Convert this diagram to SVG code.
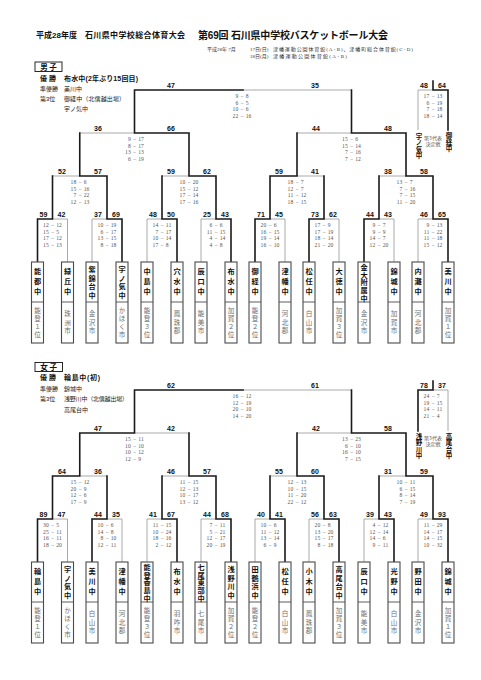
<svg xmlns="http://www.w3.org/2000/svg" width="481" height="680" viewBox="0 0 481 680">
<style>
.tk{fill:none;stroke:#1a1a1a;stroke-width:1.6;stroke-linecap:square}
.tn{fill:none;stroke:#a0a0a0;stroke-width:0.9}
.bx{fill:#fff;stroke:#4a4a4a;stroke-width:1.1}
.dv{fill:none;stroke:#4a4a4a;stroke-width:0.9}
.lb{font-family:"Liberation Sans",Arial,sans-serif;font-weight:bold;font-size:7px;fill:#111;text-anchor:middle}
.sc{font-family:"Liberation Serif",serif;font-size:5.6px;fill:#555;text-anchor:middle}
.e{text-anchor:end}.s{text-anchor:start}
.nm{font-family:"Noto Sans CJK JP",sans-serif;font-weight:bold;font-size:7.2px;fill:#111;writing-mode:vertical-rl;text-orientation:upright;text-anchor:middle}
.n3{letter-spacing:2.8px}.n4{letter-spacing:1.3px}.n5{letter-spacing:0.6px}
.rg{font-family:"Noto Sans CJK JP",sans-serif;font-size:6.6px;fill:#707070;writing-mode:vertical-rl;text-orientation:upright;text-anchor:middle}
.r3{letter-spacing:1.9px}.r4{letter-spacing:1.1px}
.t3{font-family:"Noto Sans CJK JP",sans-serif;font-weight:bold;font-size:6.5px;fill:#111;writing-mode:vertical-rl;text-orientation:upright;text-anchor:middle}
.tq{font-family:"Noto Sans CJK JP",sans-serif;font-size:5px;fill:#555;text-anchor:middle}
.h1{font-family:"Liberation Sans","Noto Sans CJK JP",sans-serif;font-weight:bold;font-size:8px;fill:#111}
.h2{font-family:"Liberation Sans","Noto Sans CJK JP",sans-serif;font-weight:bold;font-size:10px;fill:#111}
.sub{font-family:"Liberation Serif","Noto Sans CJK JP",serif;font-size:5px;fill:#333}
.w1{font-family:"Liberation Sans","Noto Sans CJK JP",sans-serif;font-weight:bold;font-size:7px;fill:#111}
.w2{font-family:"Liberation Sans","Noto Sans CJK JP",sans-serif;font-size:6px;fill:#222}
.sx{font-family:"Noto Sans CJK JP",sans-serif;font-weight:bold;font-size:7.5px;fill:#111;text-anchor:middle}
.sxb{fill:#fff;stroke:#111;stroke-width:0.9}
</style>

<g id="header">
<text class="h1" x="36" y="38">平成28年度</text>
<text class="h1" x="85" y="38" textLength="100">石川県中学校総合体育大会</text>
<text class="h2" x="198" y="38.5" textLength="190">第69回 石川県中学校バスケットボール大会</text>
<text class="sub" x="207" y="51">平成28年 7月</text>
<text class="sub" x="250" y="51">17日(日)</text>
<text class="sub" x="273" y="51" textLength="140">津幡運動公園体育館(A･B)、津幡町総合体育館(C･D)</text>
<text class="sub" x="250" y="58">18日(月)</text>
<text class="sub" x="273" y="58" textLength="74">津幡運動公園体育館(A･B)</text>
</g>

<g id="boys-results">
<rect class="sxb" x="35" y="62" width="27" height="9.5"/>
<text class="sx" x="48.5" y="69.8">男 子</text>
<text class="w1" x="40" y="81">優 勝</text>
<text class="w1" x="64" y="81" textLength="74">布水中(2年ぶり15回目)</text>
<text class="w2" x="40" y="91">準優勝</text>
<text class="w2" x="64" y="91">美川中</text>
<text class="w2" x="40" y="101">第3位</text>
<text class="w2" x="64" y="101" textLength="61">御経中（北信越出場）</text>
<text class="w2" x="64" y="111">宇ノ気中</text>
</g>

<g id="girls-results">
<rect class="sxb" x="35" y="362.5" width="27.5" height="9"/>
<text class="sx" x="48.7" y="370">女 子</text>
<text class="w1" x="40" y="380">優 勝</text>
<text class="w1" x="64" y="380" textLength="36">輪島中(初)</text>
<text class="w2" x="40" y="391">準優勝</text>
<text class="w2" x="64" y="391">錦城中</text>
<text class="w2" x="40" y="401">第3位</text>
<text class="w2" x="64" y="401" textLength="64">浅野川中（北信越出場）</text>
<text class="w2" x="64" y="412">高尾台中</text>
</g>

<g id="connectors">
<path class="tn" d="M67.5 262V219H52.5M92 262V219H107M147 262V219H162M201 262V219H216M285 262V219H270M339 262V219H324M394 262V219H379M418 262V219H433M52.5 176H79.75M162 176H189M324 176H297M379 176H406M79.75 133H134.5M297 133H351.5M351.5 90H243M418 130V90H433"/>
<path class="tk" d="M37.5 262V219H52.5M122 262V219H107M177 262V219H162M231 262V219H216M255 262V219H270M309 262V219H324M364 262V219H379M448 262V219H433M52.5 219V176M107 219V176H79.75M162 219V176M216 219V176H189M324 219V176M270 219V176H297M379 219V176M433 219V176H406M79.75 176V133M189 176V133H134.5M297 176V133M406 176V133H351.5M351.5 133V90M134.5 133V90H243M448 130V90H433M433 90V81"/>
<path class="tn" d="M67.5 562V519H52.5M122 562V519H107M147 562V519H162M201 562V519H216M255 562V519H270M309 562V519H324M364 562V519H379M418 562V519H433M107 476H79.75M162 476H189M270 476H297M379 476H406M189 433H134.5M297 433H351.5M351.5 390H243M448 431V390H433"/>
<path class="tk" d="M37.5 562V519H52.5M92 562V519H107M177 562V519H162M231 562V519H216M285 562V519H270M339 562V519H324M394 562V519H379M448 562V519H433M107 519V476M52.5 519V476H79.75M162 519V476M216 519V476H189M270 519V476M324 519V476H297M379 519V476M433 519V476H406M189 476V433M79.75 476V433H134.5M297 476V433M406 476V433H351.5M351.5 433V390M134.5 433V390H243M418 431V390H433M433 390V381"/>
</g>

<g id="labels">
<text class="lb" x="43.5" y="217">59</text><text class="lb" x="61.5" y="217">42</text><text class="lb" x="98" y="217">37</text><text class="lb" x="116" y="217">69</text><text class="lb" x="153" y="217">48</text><text class="lb" x="171" y="217">50</text><text class="lb" x="207" y="217">25</text><text class="lb" x="225" y="217">43</text><text class="lb" x="261" y="217">71</text><text class="lb" x="279" y="217">45</text><text class="lb" x="315" y="217">73</text><text class="lb" x="333" y="217">62</text><text class="lb" x="370" y="217">44</text><text class="lb" x="388" y="217">43</text><text class="lb" x="424" y="217">46</text><text class="lb" x="442" y="217">65</text>
<text class="lb" x="62" y="174">52</text><text class="lb" x="98" y="174">57</text><text class="lb" x="171" y="174">59</text><text class="lb" x="207" y="174">62</text><text class="lb" x="279" y="174">59</text><text class="lb" x="315" y="174">41</text><text class="lb" x="388" y="174">38</text><text class="lb" x="424" y="174">58</text>
<text class="lb" x="98" y="131">36</text><text class="lb" x="171" y="131">66</text><text class="lb" x="316" y="131">44</text><text class="lb" x="388" y="131">48</text>
<text class="lb" x="171" y="88">47</text><text class="lb" x="315" y="88">35</text><text class="lb" x="424" y="88">48</text><text class="lb" x="442" y="88">64</text>
<text class="lb" x="43.5" y="517">89</text><text class="lb" x="61.5" y="517">47</text><text class="lb" x="98" y="517">44</text><text class="lb" x="116" y="517">35</text><text class="lb" x="153" y="517">41</text><text class="lb" x="171" y="517">67</text><text class="lb" x="207" y="517">44</text><text class="lb" x="225" y="517">68</text><text class="lb" x="261" y="517">40</text><text class="lb" x="279" y="517">41</text><text class="lb" x="315" y="517">56</text><text class="lb" x="333" y="517">63</text><text class="lb" x="370" y="517">39</text><text class="lb" x="388" y="517">43</text><text class="lb" x="424" y="517">49</text><text class="lb" x="442" y="517">93</text>
<text class="lb" x="62" y="474">64</text><text class="lb" x="98" y="474">36</text><text class="lb" x="171" y="474">46</text><text class="lb" x="207" y="474">57</text><text class="lb" x="279" y="474">55</text><text class="lb" x="315" y="474">60</text><text class="lb" x="388" y="474">31</text><text class="lb" x="424" y="474">59</text>
<text class="lb" x="98" y="431">47</text><text class="lb" x="171" y="431">42</text><text class="lb" x="316" y="431">42</text><text class="lb" x="388" y="431">58</text>
<text class="lb" x="171" y="388">62</text><text class="lb" x="315" y="388">61</text><text class="lb" x="424" y="388">78</text><text class="lb" x="442" y="388">37</text>
</g>

<g id="scores">
<g transform="translate(52.5,219)"><text class="sc" y="8"><tspan class="e" x="-3.8">12</tspan><tspan x="0">−</tspan><tspan class="s" x="3.8">12</tspan></text><text class="sc" y="14.5"><tspan class="e" x="-3.8">15</tspan><tspan x="0">−</tspan><tspan class="s" x="3.8">5</tspan></text><text class="sc" y="21"><tspan class="e" x="-3.8">17</tspan><tspan x="0">−</tspan><tspan class="s" x="3.8">12</tspan></text><text class="sc" y="27.5"><tspan class="e" x="-3.8">15</tspan><tspan x="0">−</tspan><tspan class="s" x="3.8">13</tspan></text></g>
<g transform="translate(107,219)"><text class="sc" y="8"><tspan class="e" x="-3.8">10</tspan><tspan x="0">−</tspan><tspan class="s" x="3.8">19</tspan></text><text class="sc" y="14.5"><tspan class="e" x="-3.8">6</tspan><tspan x="0">−</tspan><tspan class="s" x="3.8">17</tspan></text><text class="sc" y="21"><tspan class="e" x="-3.8">13</tspan><tspan x="0">−</tspan><tspan class="s" x="3.8">15</tspan></text><text class="sc" y="27.5"><tspan class="e" x="-3.8">8</tspan><tspan x="0">−</tspan><tspan class="s" x="3.8">18</tspan></text></g>
<g transform="translate(162,219)"><text class="sc" y="8"><tspan class="e" x="-3.8">14</tspan><tspan x="0">−</tspan><tspan class="s" x="3.8">11</tspan></text><text class="sc" y="14.5"><tspan class="e" x="-3.8">7</tspan><tspan x="0">−</tspan><tspan class="s" x="3.8">17</tspan></text><text class="sc" y="21"><tspan class="e" x="-3.8">10</tspan><tspan x="0">−</tspan><tspan class="s" x="3.8">14</tspan></text><text class="sc" y="27.5"><tspan class="e" x="-3.8">17</tspan><tspan x="0">−</tspan><tspan class="s" x="3.8">8</tspan></text></g>
<g transform="translate(216,219)"><text class="sc" y="8"><tspan class="e" x="-3.8">6</tspan><tspan x="0">−</tspan><tspan class="s" x="3.8">6</tspan></text><text class="sc" y="14.5"><tspan class="e" x="-3.8">11</tspan><tspan x="0">−</tspan><tspan class="s" x="3.8">15</tspan></text><text class="sc" y="21"><tspan class="e" x="-3.8">4</tspan><tspan x="0">−</tspan><tspan class="s" x="3.8">14</tspan></text><text class="sc" y="27.5"><tspan class="e" x="-3.8">4</tspan><tspan x="0">−</tspan><tspan class="s" x="3.8">8</tspan></text></g>
<g transform="translate(270,219)"><text class="sc" y="8"><tspan class="e" x="-3.8">20</tspan><tspan x="0">−</tspan><tspan class="s" x="3.8">6</tspan></text><text class="sc" y="14.5"><tspan class="e" x="-3.8">16</tspan><tspan x="0">−</tspan><tspan class="s" x="3.8">15</tspan></text><text class="sc" y="21"><tspan class="e" x="-3.8">19</tspan><tspan x="0">−</tspan><tspan class="s" x="3.8">14</tspan></text><text class="sc" y="27.5"><tspan class="e" x="-3.8">16</tspan><tspan x="0">−</tspan><tspan class="s" x="3.8">10</tspan></text></g>
<g transform="translate(324,219)"><text class="sc" y="8"><tspan class="e" x="-3.8">17</tspan><tspan x="0">−</tspan><tspan class="s" x="3.8">9</tspan></text><text class="sc" y="14.5"><tspan class="e" x="-3.8">17</tspan><tspan x="0">−</tspan><tspan class="s" x="3.8">19</tspan></text><text class="sc" y="21"><tspan class="e" x="-3.8">18</tspan><tspan x="0">−</tspan><tspan class="s" x="3.8">14</tspan></text><text class="sc" y="27.5"><tspan class="e" x="-3.8">21</tspan><tspan x="0">−</tspan><tspan class="s" x="3.8">20</tspan></text></g>
<g transform="translate(379,219)"><text class="sc" y="8"><tspan class="e" x="-3.8">9</tspan><tspan x="0">−</tspan><tspan class="s" x="3.8">7</tspan></text><text class="sc" y="14.5"><tspan class="e" x="-3.8">9</tspan><tspan x="0">−</tspan><tspan class="s" x="3.8">9</tspan></text><text class="sc" y="21"><tspan class="e" x="-3.8">14</tspan><tspan x="0">−</tspan><tspan class="s" x="3.8">7</tspan></text><text class="sc" y="27.5"><tspan class="e" x="-3.8">12</tspan><tspan x="0">−</tspan><tspan class="s" x="3.8">20</tspan></text></g>
<g transform="translate(433,219)"><text class="sc" y="8"><tspan class="e" x="-3.8">9</tspan><tspan x="0">−</tspan><tspan class="s" x="3.8">13</tspan></text><text class="sc" y="14.5"><tspan class="e" x="-3.8">11</tspan><tspan x="0">−</tspan><tspan class="s" x="3.8">22</tspan></text><text class="sc" y="21"><tspan class="e" x="-3.8">11</tspan><tspan x="0">−</tspan><tspan class="s" x="3.8">18</tspan></text><text class="sc" y="27.5"><tspan class="e" x="-3.8">15</tspan><tspan x="0">−</tspan><tspan class="s" x="3.8">12</tspan></text></g>
<g transform="translate(80,176)"><text class="sc" y="8"><tspan class="e" x="-3.8">18</tspan><tspan x="0">−</tspan><tspan class="s" x="3.8">6</tspan></text><text class="sc" y="14.5"><tspan class="e" x="-3.8">15</tspan><tspan x="0">−</tspan><tspan class="s" x="3.8">16</tspan></text><text class="sc" y="21"><tspan class="e" x="-3.8">7</tspan><tspan x="0">−</tspan><tspan class="s" x="3.8">22</tspan></text><text class="sc" y="27.5"><tspan class="e" x="-3.8">12</tspan><tspan x="0">−</tspan><tspan class="s" x="3.8">13</tspan></text></g>
<g transform="translate(189,176)"><text class="sc" y="8"><tspan class="e" x="-3.8">10</tspan><tspan x="0">−</tspan><tspan class="s" x="3.8">20</tspan></text><text class="sc" y="14.5"><tspan class="e" x="-3.8">15</tspan><tspan x="0">−</tspan><tspan class="s" x="3.8">12</tspan></text><text class="sc" y="21"><tspan class="e" x="-3.8">17</tspan><tspan x="0">−</tspan><tspan class="s" x="3.8">14</tspan></text><text class="sc" y="27.5"><tspan class="e" x="-3.8">17</tspan><tspan x="0">−</tspan><tspan class="s" x="3.8">16</tspan></text></g>
<g transform="translate(297,176)"><text class="sc" y="8"><tspan class="e" x="-3.8">18</tspan><tspan x="0">−</tspan><tspan class="s" x="3.8">7</tspan></text><text class="sc" y="14.5"><tspan class="e" x="-3.8">12</tspan><tspan x="0">−</tspan><tspan class="s" x="3.8">7</tspan></text><text class="sc" y="21"><tspan class="e" x="-3.8">11</tspan><tspan x="0">−</tspan><tspan class="s" x="3.8">12</tspan></text><text class="sc" y="27.5"><tspan class="e" x="-3.8">18</tspan><tspan x="0">−</tspan><tspan class="s" x="3.8">15</tspan></text></g>
<g transform="translate(406,176)"><text class="sc" y="8"><tspan class="e" x="-3.8">13</tspan><tspan x="0">−</tspan><tspan class="s" x="3.8">7</tspan></text><text class="sc" y="14.5"><tspan class="e" x="-3.8">7</tspan><tspan x="0">−</tspan><tspan class="s" x="3.8">16</tspan></text><text class="sc" y="21"><tspan class="e" x="-3.8">7</tspan><tspan x="0">−</tspan><tspan class="s" x="3.8">15</tspan></text><text class="sc" y="27.5"><tspan class="e" x="-3.8">11</tspan><tspan x="0">−</tspan><tspan class="s" x="3.8">20</tspan></text></g>
<g transform="translate(134.5,133)"><text class="sc" y="8"><tspan class="e" x="-3.8">9</tspan><tspan x="0">−</tspan><tspan class="s" x="3.8">17</tspan></text><text class="sc" y="14.5"><tspan class="e" x="-3.8">8</tspan><tspan x="0">−</tspan><tspan class="s" x="3.8">17</tspan></text><text class="sc" y="21"><tspan class="e" x="-3.8">13</tspan><tspan x="0">−</tspan><tspan class="s" x="3.8">13</tspan></text><text class="sc" y="27.5"><tspan class="e" x="-3.8">6</tspan><tspan x="0">−</tspan><tspan class="s" x="3.8">19</tspan></text></g>
<g transform="translate(351.5,133)"><text class="sc" y="8"><tspan class="e" x="-3.8">15</tspan><tspan x="0">−</tspan><tspan class="s" x="3.8">6</tspan></text><text class="sc" y="14.5"><tspan class="e" x="-3.8">15</tspan><tspan x="0">−</tspan><tspan class="s" x="3.8">14</tspan></text><text class="sc" y="21"><tspan class="e" x="-3.8">7</tspan><tspan x="0">−</tspan><tspan class="s" x="3.8">16</tspan></text><text class="sc" y="27.5"><tspan class="e" x="-3.8">7</tspan><tspan x="0">−</tspan><tspan class="s" x="3.8">12</tspan></text></g>
<g transform="translate(242,90)"><text class="sc" y="8"><tspan class="e" x="-3.8">9</tspan><tspan x="0">−</tspan><tspan class="s" x="3.8">8</tspan></text><text class="sc" y="14.5"><tspan class="e" x="-3.8">6</tspan><tspan x="0">−</tspan><tspan class="s" x="3.8">5</tspan></text><text class="sc" y="21"><tspan class="e" x="-3.8">10</tspan><tspan x="0">−</tspan><tspan class="s" x="3.8">6</tspan></text><text class="sc" y="27.5"><tspan class="e" x="-3.8">22</tspan><tspan x="0">−</tspan><tspan class="s" x="3.8">16</tspan></text></g>
<g transform="translate(433,90)"><text class="sc" y="8"><tspan class="e" x="-3.8">17</tspan><tspan x="0">−</tspan><tspan class="s" x="3.8">13</tspan></text><text class="sc" y="14.5"><tspan class="e" x="-3.8">6</tspan><tspan x="0">−</tspan><tspan class="s" x="3.8">19</tspan></text><text class="sc" y="21"><tspan class="e" x="-3.8">7</tspan><tspan x="0">−</tspan><tspan class="s" x="3.8">18</tspan></text><text class="sc" y="27.5"><tspan class="e" x="-3.8">18</tspan><tspan x="0">−</tspan><tspan class="s" x="3.8">14</tspan></text></g>

<g transform="translate(52.5,519)"><text class="sc" y="8"><tspan class="e" x="-3.8">30</tspan><tspan x="0">−</tspan><tspan class="s" x="3.8">5</tspan></text><text class="sc" y="14.5"><tspan class="e" x="-3.8">25</tspan><tspan x="0">−</tspan><tspan class="s" x="3.8">11</tspan></text><text class="sc" y="21"><tspan class="e" x="-3.8">16</tspan><tspan x="0">−</tspan><tspan class="s" x="3.8">11</tspan></text><text class="sc" y="27.5"><tspan class="e" x="-3.8">18</tspan><tspan x="0">−</tspan><tspan class="s" x="3.8">20</tspan></text></g>
<g transform="translate(107,519)"><text class="sc" y="8"><tspan class="e" x="-3.8">10</tspan><tspan x="0">−</tspan><tspan class="s" x="3.8">6</tspan></text><text class="sc" y="14.5"><tspan class="e" x="-3.8">14</tspan><tspan x="0">−</tspan><tspan class="s" x="3.8">8</tspan></text><text class="sc" y="21"><tspan class="e" x="-3.8">8</tspan><tspan x="0">−</tspan><tspan class="s" x="3.8">10</tspan></text><text class="sc" y="27.5"><tspan class="e" x="-3.8">12</tspan><tspan x="0">−</tspan><tspan class="s" x="3.8">11</tspan></text></g>
<g transform="translate(162,519)"><text class="sc" y="8"><tspan class="e" x="-3.8">11</tspan><tspan x="0">−</tspan><tspan class="s" x="3.8">15</tspan></text><text class="sc" y="14.5"><tspan class="e" x="-3.8">10</tspan><tspan x="0">−</tspan><tspan class="s" x="3.8">24</tspan></text><text class="sc" y="21"><tspan class="e" x="-3.8">18</tspan><tspan x="0">−</tspan><tspan class="s" x="3.8">16</tspan></text><text class="sc" y="27.5"><tspan class="e" x="-3.8">2</tspan><tspan x="0">−</tspan><tspan class="s" x="3.8">12</tspan></text></g>
<g transform="translate(216,519)"><text class="sc" y="8"><tspan class="e" x="-3.8">7</tspan><tspan x="0">−</tspan><tspan class="s" x="3.8">11</tspan></text><text class="sc" y="14.5"><tspan class="e" x="-3.8">5</tspan><tspan x="0">−</tspan><tspan class="s" x="3.8">21</tspan></text><text class="sc" y="21"><tspan class="e" x="-3.8">12</tspan><tspan x="0">−</tspan><tspan class="s" x="3.8">17</tspan></text><text class="sc" y="27.5"><tspan class="e" x="-3.8">20</tspan><tspan x="0">−</tspan><tspan class="s" x="3.8">19</tspan></text></g>
<g transform="translate(270,519)"><text class="sc" y="8"><tspan class="e" x="-3.8">10</tspan><tspan x="0">−</tspan><tspan class="s" x="3.8">6</tspan></text><text class="sc" y="14.5"><tspan class="e" x="-3.8">11</tspan><tspan x="0">−</tspan><tspan class="s" x="3.8">12</tspan></text><text class="sc" y="21"><tspan class="e" x="-3.8">13</tspan><tspan x="0">−</tspan><tspan class="s" x="3.8">14</tspan></text><text class="sc" y="27.5"><tspan class="e" x="-3.8">6</tspan><tspan x="0">−</tspan><tspan class="s" x="3.8">9</tspan></text></g>
<g transform="translate(324,519)"><text class="sc" y="8"><tspan class="e" x="-3.8">20</tspan><tspan x="0">−</tspan><tspan class="s" x="3.8">8</tspan></text><text class="sc" y="14.5"><tspan class="e" x="-3.8">13</tspan><tspan x="0">−</tspan><tspan class="s" x="3.8">20</tspan></text><text class="sc" y="21"><tspan class="e" x="-3.8">15</tspan><tspan x="0">−</tspan><tspan class="s" x="3.8">17</tspan></text><text class="sc" y="27.5"><tspan class="e" x="-3.8">8</tspan><tspan x="0">−</tspan><tspan class="s" x="3.8">18</tspan></text></g>
<g transform="translate(379,519)"><text class="sc" y="8"><tspan class="e" x="-3.8">4</tspan><tspan x="0">−</tspan><tspan class="s" x="3.8">12</tspan></text><text class="sc" y="14.5"><tspan class="e" x="-3.8">12</tspan><tspan x="0">−</tspan><tspan class="s" x="3.8">14</tspan></text><text class="sc" y="21"><tspan class="e" x="-3.8">14</tspan><tspan x="0">−</tspan><tspan class="s" x="3.8">6</tspan></text><text class="sc" y="27.5"><tspan class="e" x="-3.8">9</tspan><tspan x="0">−</tspan><tspan class="s" x="3.8">11</tspan></text></g>
<g transform="translate(433,519)"><text class="sc" y="8"><tspan class="e" x="-3.8">11</tspan><tspan x="0">−</tspan><tspan class="s" x="3.8">29</tspan></text><text class="sc" y="14.5"><tspan class="e" x="-3.8">14</tspan><tspan x="0">−</tspan><tspan class="s" x="3.8">17</tspan></text><text class="sc" y="21"><tspan class="e" x="-3.8">14</tspan><tspan x="0">−</tspan><tspan class="s" x="3.8">15</tspan></text><text class="sc" y="27.5"><tspan class="e" x="-3.8">10</tspan><tspan x="0">−</tspan><tspan class="s" x="3.8">32</tspan></text></g>
<g transform="translate(80,476)"><text class="sc" y="8"><tspan class="e" x="-3.8">15</tspan><tspan x="0">−</tspan><tspan class="s" x="3.8">12</tspan></text><text class="sc" y="14.5"><tspan class="e" x="-3.8">20</tspan><tspan x="0">−</tspan><tspan class="s" x="3.8">9</tspan></text><text class="sc" y="21"><tspan class="e" x="-3.8">12</tspan><tspan x="0">−</tspan><tspan class="s" x="3.8">6</tspan></text><text class="sc" y="27.5"><tspan class="e" x="-3.8">17</tspan><tspan x="0">−</tspan><tspan class="s" x="3.8">9</tspan></text></g>
<g transform="translate(189,476)"><text class="sc" y="8"><tspan class="e" x="-3.8">11</tspan><tspan x="0">−</tspan><tspan class="s" x="3.8">15</tspan></text><text class="sc" y="14.5"><tspan class="e" x="-3.8">12</tspan><tspan x="0">−</tspan><tspan class="s" x="3.8">13</tspan></text><text class="sc" y="21"><tspan class="e" x="-3.8">10</tspan><tspan x="0">−</tspan><tspan class="s" x="3.8">17</tspan></text><text class="sc" y="27.5"><tspan class="e" x="-3.8">13</tspan><tspan x="0">−</tspan><tspan class="s" x="3.8">12</tspan></text></g>
<g transform="translate(297,476)"><text class="sc" y="8"><tspan class="e" x="-3.8">12</tspan><tspan x="0">−</tspan><tspan class="s" x="3.8">13</tspan></text><text class="sc" y="14.5"><tspan class="e" x="-3.8">10</tspan><tspan x="0">−</tspan><tspan class="s" x="3.8">15</tspan></text><text class="sc" y="21"><tspan class="e" x="-3.8">11</tspan><tspan x="0">−</tspan><tspan class="s" x="3.8">20</tspan></text><text class="sc" y="27.5"><tspan class="e" x="-3.8">22</tspan><tspan x="0">−</tspan><tspan class="s" x="3.8">12</tspan></text></g>
<g transform="translate(406,476)"><text class="sc" y="8"><tspan class="e" x="-3.8">10</tspan><tspan x="0">−</tspan><tspan class="s" x="3.8">11</tspan></text><text class="sc" y="14.5"><tspan class="e" x="-3.8">6</tspan><tspan x="0">−</tspan><tspan class="s" x="3.8">15</tspan></text><text class="sc" y="21"><tspan class="e" x="-3.8">8</tspan><tspan x="0">−</tspan><tspan class="s" x="3.8">14</tspan></text><text class="sc" y="27.5"><tspan class="e" x="-3.8">7</tspan><tspan x="0">−</tspan><tspan class="s" x="3.8">19</tspan></text></g>
<g transform="translate(134.5,433)"><text class="sc" y="8"><tspan class="e" x="-3.8">15</tspan><tspan x="0">−</tspan><tspan class="s" x="3.8">11</tspan></text><text class="sc" y="14.5"><tspan class="e" x="-3.8">10</tspan><tspan x="0">−</tspan><tspan class="s" x="3.8">10</tspan></text><text class="sc" y="21"><tspan class="e" x="-3.8">10</tspan><tspan x="0">−</tspan><tspan class="s" x="3.8">12</tspan></text><text class="sc" y="27.5"><tspan class="e" x="-3.8">12</tspan><tspan x="0">−</tspan><tspan class="s" x="3.8">9</tspan></text></g>
<g transform="translate(351.5,433)"><text class="sc" y="8"><tspan class="e" x="-3.8">13</tspan><tspan x="0">−</tspan><tspan class="s" x="3.8">23</tspan></text><text class="sc" y="14.5"><tspan class="e" x="-3.8">6</tspan><tspan x="0">−</tspan><tspan class="s" x="3.8">10</tspan></text><text class="sc" y="21"><tspan class="e" x="-3.8">16</tspan><tspan x="0">−</tspan><tspan class="s" x="3.8">10</tspan></text><text class="sc" y="27.5"><tspan class="e" x="-3.8">7</tspan><tspan x="0">−</tspan><tspan class="s" x="3.8">15</tspan></text></g>
<g transform="translate(242,390)"><text class="sc" y="8"><tspan class="e" x="-3.8">16</tspan><tspan x="0">−</tspan><tspan class="s" x="3.8">12</tspan></text><text class="sc" y="14.5"><tspan class="e" x="-3.8">12</tspan><tspan x="0">−</tspan><tspan class="s" x="3.8">19</tspan></text><text class="sc" y="21"><tspan class="e" x="-3.8">20</tspan><tspan x="0">−</tspan><tspan class="s" x="3.8">10</tspan></text><text class="sc" y="27.5"><tspan class="e" x="-3.8">14</tspan><tspan x="0">−</tspan><tspan class="s" x="3.8">20</tspan></text></g>
<g transform="translate(433,390)"><text class="sc" y="8"><tspan class="e" x="-3.8">24</tspan><tspan x="0">−</tspan><tspan class="s" x="3.8">7</tspan></text><text class="sc" y="14.5"><tspan class="e" x="-3.8">19</tspan><tspan x="0">−</tspan><tspan class="s" x="3.8">15</tspan></text><text class="sc" y="21"><tspan class="e" x="-3.8">14</tspan><tspan x="0">−</tspan><tspan class="s" x="3.8">11</tspan></text><text class="sc" y="27.5"><tspan class="e" x="-3.8">21</tspan><tspan x="0">−</tspan><tspan class="s" x="3.8">4</tspan></text></g>
</g>

<g id="boys-third">
<text class="t3" x="419" y="146">宇ノ気中</text>
<text class="tq" x="433" y="139.5">第3代表</text>
<text class="tq" x="433" y="145.5">決定戦</text>
<text class="t3" x="449" y="142.5">御経中</text>
</g>
<g id="girls-third">
<text class="t3" x="419" y="446">浅野川中</text>
<text class="tq" x="433" y="439.5">第3代表</text>
<text class="tq" x="433" y="445.5">決定戦</text>
<text class="t3" x="449" y="446">高尾台中</text>
</g>

<g id="b01"><rect class="bx" x="31.5" y="262" width="12" height="81"/><path class="dv" d="M31.5 302h12"/><text class="nm n3" x="37.5" y="283">能都中</text><text class="rg r4" x="37.5" y="323">能登１位</text></g>
<g id="b02"><rect class="bx" x="61.5" y="262" width="12" height="81"/><path class="dv" d="M61.5 302h12"/><text class="nm n3" x="67.5" y="283">緑丘中</text><text class="rg r3" x="67.5" y="323">珠洲市</text></g>
<g id="b03"><rect class="bx" x="86" y="262" width="12" height="81"/><path class="dv" d="M86 302h12"/><text class="nm n4" x="92" y="283">紫錦台中</text><text class="rg r3" x="92" y="323">金沢市</text></g>
<g id="b04"><rect class="bx" x="116" y="262" width="12" height="81"/><path class="dv" d="M116 302h12"/><text class="nm n4" x="122" y="283">宇ノ気中</text><text class="rg r4" x="122" y="323">かほく市</text></g>
<g id="b05"><rect class="bx" x="141" y="262" width="12" height="81"/><path class="dv" d="M141 302h12"/><text class="nm n3" x="147" y="283">中島中</text><text class="rg r4" x="147" y="323">能登３位</text></g>
<g id="b06"><rect class="bx" x="171" y="262" width="12" height="81"/><path class="dv" d="M171 302h12"/><text class="nm n3" x="177" y="283">穴水中</text><text class="rg r3" x="177" y="323">鳳珠郡</text></g>
<g id="b07"><rect class="bx" x="195" y="262" width="12" height="81"/><path class="dv" d="M195 302h12"/><text class="nm n3" x="201" y="283">辰口中</text><text class="rg r3" x="201" y="323">能美市</text></g>
<g id="b08"><rect class="bx" x="225" y="262" width="12" height="81"/><path class="dv" d="M225 302h12"/><text class="nm n3" x="231" y="283">布水中</text><text class="rg r4" x="231" y="323">加賀２位</text></g>
<g id="b09"><rect class="bx" x="249" y="262" width="12" height="81"/><path class="dv" d="M249 302h12"/><text class="nm n3" x="255" y="283">御経中</text><text class="rg r4" x="255" y="323">能登２位</text></g>
<g id="b10"><rect class="bx" x="279" y="262" width="12" height="81"/><path class="dv" d="M279 302h12"/><text class="nm n3" x="285" y="283">津幡中</text><text class="rg r3" x="285" y="323">河北郡</text></g>
<g id="b11"><rect class="bx" x="303" y="262" width="12" height="81"/><path class="dv" d="M303 302h12"/><text class="nm n3" x="309" y="283">松任中</text><text class="rg r3" x="309" y="323">白山市</text></g>
<g id="b12"><rect class="bx" x="333" y="262" width="12" height="81"/><path class="dv" d="M333 302h12"/><text class="nm n3" x="339" y="283">大徳中</text><text class="rg r4" x="339" y="323">加賀３位</text></g>
<g id="b13"><rect class="bx" x="358" y="262" width="12" height="81"/><path class="dv" d="M358 302h12"/><text class="nm n5" x="364" y="283">金大附属中</text><text class="rg r3" x="364" y="323">金沢市</text></g>
<g id="b14"><rect class="bx" x="388" y="262" width="12" height="81"/><path class="dv" d="M388 302h12"/><text class="nm n3" x="394" y="283">錦城中</text><text class="rg r3" x="394" y="323">加賀市</text></g>
<g id="b15"><rect class="bx" x="412" y="262" width="12" height="81"/><path class="dv" d="M412 302h12"/><text class="nm n3" x="418" y="283">内灘中</text><text class="rg r3" x="418" y="323">河北郡</text></g>
<g id="b16"><rect class="bx" x="442" y="262" width="12" height="81"/><path class="dv" d="M442 302h12"/><text class="nm n3" x="448" y="283">美川中</text><text class="rg r4" x="448" y="323">加賀１位</text></g>

<g id="g01"><rect class="bx" x="31.5" y="562" width="12" height="81"/><path class="dv" d="M31.5 602h12"/><text class="nm n3" x="37.5" y="583">輪島中</text><text class="rg r4" x="37.5" y="623">能登１位</text></g>
<g id="g02"><rect class="bx" x="61.5" y="562" width="12" height="81"/><path class="dv" d="M61.5 602h12"/><text class="nm n4" x="67.5" y="583">宇ノ気中</text><text class="rg r4" x="67.5" y="623">かほく市</text></g>
<g id="g03"><rect class="bx" x="86" y="562" width="12" height="81"/><path class="dv" d="M86 602h12"/><text class="nm n3" x="92" y="583">美川中</text><text class="rg r3" x="92" y="623">白山市</text></g>
<g id="g04"><rect class="bx" x="116" y="562" width="12" height="81"/><path class="dv" d="M116 602h12"/><text class="nm n3" x="122" y="583">津幡中</text><text class="rg r3" x="122" y="623">河北郡</text></g>
<g id="g05"><rect class="bx" x="141" y="562" width="12" height="81"/><path class="dv" d="M141 602h12"/><text class="nm n5" x="147" y="583">能登香島中</text><text class="rg r4" x="147" y="623">能登３位</text></g>
<g id="g06"><rect class="bx" x="171" y="562" width="12" height="81"/><path class="dv" d="M171 602h12"/><text class="nm n3" x="177" y="583">布水中</text><text class="rg r3" x="177" y="623">羽咋市</text></g>
<g id="g07"><rect class="bx" x="195" y="562" width="12" height="81"/><path class="dv" d="M195 602h12"/><text class="nm n5" x="201" y="583">七尾東部中</text><text class="rg r3" x="201" y="623">七尾市</text></g>
<g id="g08"><rect class="bx" x="225" y="562" width="12" height="81"/><path class="dv" d="M225 602h12"/><text class="nm n4" x="231" y="583">浅野川中</text><text class="rg r4" x="231" y="623">加賀２位</text></g>
<g id="g09"><rect class="bx" x="249" y="562" width="12" height="81"/><path class="dv" d="M249 602h12"/><text class="nm n4" x="255" y="583">田鶴浜中</text><text class="rg r4" x="255" y="623">能登２位</text></g>
<g id="g10"><rect class="bx" x="279" y="562" width="12" height="81"/><path class="dv" d="M279 602h12"/><text class="nm n3" x="285" y="583">松任中</text><text class="rg r3" x="285" y="623">白山市</text></g>
<g id="g11"><rect class="bx" x="303" y="562" width="12" height="81"/><path class="dv" d="M303 602h12"/><text class="nm n3" x="309" y="583">小木中</text><text class="rg r3" x="309" y="623">鳳珠郡</text></g>
<g id="g12"><rect class="bx" x="333" y="562" width="12" height="81"/><path class="dv" d="M333 602h12"/><text class="nm n4" x="339" y="583">高尾台中</text><text class="rg r4" x="339" y="623">加賀３位</text></g>
<g id="g13"><rect class="bx" x="358" y="562" width="12" height="81"/><path class="dv" d="M358 602h12"/><text class="nm n3" x="364" y="583">辰口中</text><text class="rg r3" x="364" y="623">能美市</text></g>
<g id="g14"><rect class="bx" x="388" y="562" width="12" height="81"/><path class="dv" d="M388 602h12"/><text class="nm n3" x="394" y="583">光野中</text><text class="rg r3" x="394" y="623">白山市</text></g>
<g id="g15"><rect class="bx" x="412" y="562" width="12" height="81"/><path class="dv" d="M412 602h12"/><text class="nm n3" x="418" y="583">野田中</text><text class="rg r3" x="418" y="623">金沢市</text></g>
<g id="g16"><rect class="bx" x="442" y="562" width="12" height="81"/><path class="dv" d="M442 602h12"/><text class="nm n3" x="448" y="583">錦城中</text><text class="rg r4" x="448" y="623">加賀１位</text></g>
</svg>
